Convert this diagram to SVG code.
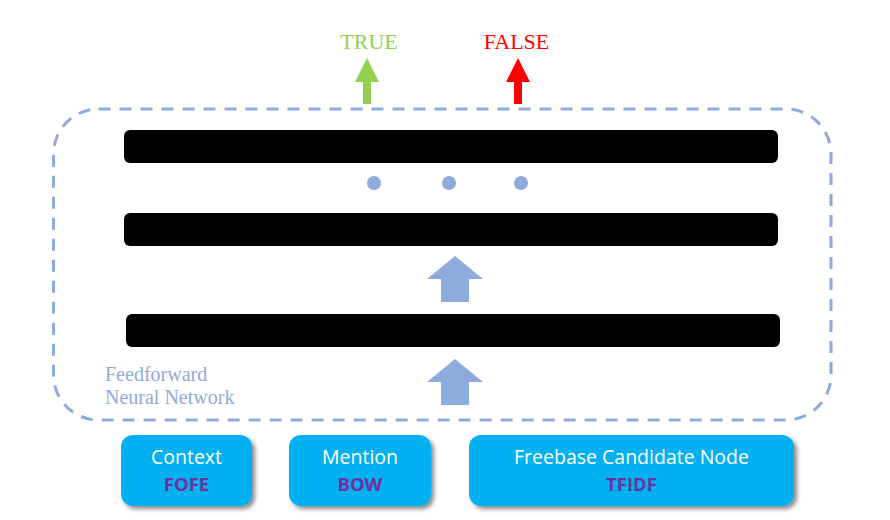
<svg xmlns="http://www.w3.org/2000/svg" width="890" height="520" viewBox="0 0 890 520">
<defs>
<style>
.bar{fill:#000}
.dot{fill:#8FAADC}
.blue{fill:#8FAADC}
.box{fill:#00B0F0;filter:url(#sh)}
.t1{font-family:"Open Sans","Noto Sans",sans-serif;font-size:19.5px;fill:#fff;text-anchor:middle}
.t2{font-family:"Open Sans","Noto Sans",sans-serif;font-size:18.5px;font-weight:bold;fill:#7030A0;text-anchor:middle}
.ser{font-family:"Liberation Serif","Times New Roman",serif}
</style>
<filter id="sh" x="-10%" y="-20%" width="130%" height="150%">
<feDropShadow dx="3" dy="3" stdDeviation="2" flood-color="#000" flood-opacity="0.45"/>
</filter>
</defs>
<rect x="0" y="0" width="890" height="520" fill="#fff"/>
<g id="network">
<rect x="53.5" y="109" width="777.5" height="311" rx="45" ry="45" fill="none" stroke="#8FAADC" stroke-width="3" stroke-dasharray="12 9"/>
<text class="ser" x="105" y="381" font-size="20" fill="#8FAADC">Feedforward</text>
<text class="ser" x="105" y="404" font-size="20" fill="#8FAADC">Neural Network</text>
</g>
<g id="layer1"><rect class="bar" x="124" y="130" width="654" height="33" rx="6"/></g>
<g id="layer2"><rect class="bar" x="124" y="213" width="654" height="33" rx="6"/></g>
<g id="layer3"><rect class="bar" x="126" y="314" width="654" height="33" rx="6"/></g>
<g id="dots">
<circle class="dot" cx="374" cy="183" r="7"/>
<circle class="dot" cx="449" cy="183" r="7"/>
<circle class="dot" cx="521" cy="183" r="7"/>
</g>
<g id="connectors">
<polygon class="blue" points="455,256 483,279 469,279 469,302 441,302 441,279 427,279"/>
<polygon class="blue" points="455,359 483,382 469,382 469,405 441,405 441,382 427,382"/>
<polygon fill="#92D050" points="367,58 379,82 371,82 371,104 363,104 363,82 355,82"/>
<polygon fill="#FF0000" points="518,58 530,82 522,82 522,104 514,104 514,82 506,82"/>
</g>
<g id="true"><text class="ser" x="369" y="49" font-size="22" fill="#92D050" text-anchor="middle">TRUE</text></g>
<g id="false"><text class="ser" x="516.5" y="49" font-size="22" fill="#FF0000" text-anchor="middle">FALSE</text></g>
<g id="context">
<rect class="box" x="121" y="435" width="131" height="71" rx="12"/>
<text class="t1" x="186.5" y="464">Context</text>
<text class="t2" x="186.5" y="491">FOFE</text>
</g>
<g id="mention">
<rect class="box" x="289" y="435" width="142" height="71" rx="12"/>
<text class="t1" x="360" y="464">Mention</text>
<text class="t2" x="360" y="491">BOW</text>
</g>
<g id="freebase">
<rect class="box" x="469" y="435" width="325" height="71" rx="12"/>
<text class="t1" x="631.5" y="464">Freebase Candidate Node</text>
<text class="t2" x="631.5" y="491">TFIDF</text>
</g>
</svg>
